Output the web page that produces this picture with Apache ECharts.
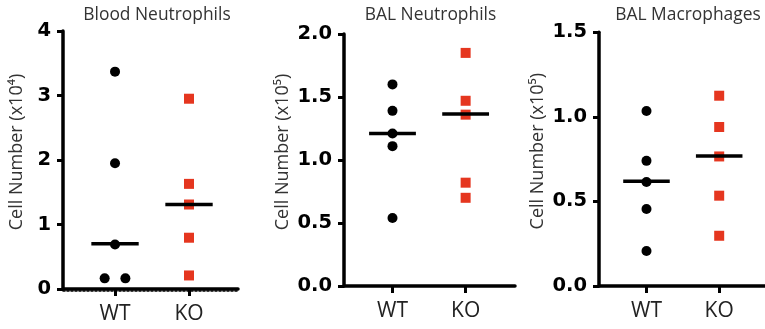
<!DOCTYPE html>
<html><head><meta charset="utf-8">
<script src="https://cdn.jsdelivr.net/npm/echarts@6/dist/echarts.min.js"></script>
<style>html,body{margin:0;padding:0;background:#fff}#c{width:765px;height:329px}</style>
</head><body><div id="c"></div>
<script>
const categories = ['WT', 'KO'];
const titles = ['Blood Neutrophils', 'BAL Neutrophils', 'BAL Macrophages'];
const yNames = ['Cell Number (x10\u2074)', 'Cell Number (x10\u2075)', 'Cell Number (x10\u2075)'];
const yMax = [4, 2, 1.5];
const yInterval = [1, 0.5, 0.5];
const yDecimals = [0, 1, 1];

const bloodWT = [3.37, 1.95, 0.69, 0.165, 0.165];
const bloodWTJitter = [0, 0, 0, -0.14, 0.14];
const bloodKO = [2.95, 1.63, 1.31, 0.795, 0.21];
const balNeuWT = [1.60, 1.39, 1.21, 1.11, 0.54];
const balNeuKO = [1.85, 1.47, 1.36, 0.82, 0.70];
const balMacWT = [1.035, 0.74, 0.615, 0.455, 0.207];
const balMacKO = [1.125, 0.94, 0.766, 0.534, 0.297];
const medians = [[0.70, 1.31], [1.21, 1.365], [0.619, 0.769]];

const panels = [
  {wt: bloodWT, wtJ: bloodWTJitter, ko: bloodKO},
  {wt: balNeuWT, wtJ: null, ko: balNeuKO},
  {wt: balMacWT, wtJ: null, ko: balMacKO}
];

const grids = [
  {left: 63, top: 31, width: 175, height: 258},
  {left: 344, top: 34, width: 171, height: 252},
  {left: 599, top: 32.3, width: 166, height: 253.7}
];
const xRange = [[0.297, 2.662], [0.337, 2.675], [0.347, 2.63]];
const titleX = [152, 425.5, 683];
const nameGaps = [37, 52, 52];

const chart = echarts.init(document.getElementById('c'));
const option = {
  animation: false,
  title: [], grid: [], xAxis: [], yAxis: [], series: []
};
grids.forEach((g, i) => {
  option.grid.push(g);
  option.title.push({
    text: titles[i], left: titleX[i], top: 2, textAlign: 'center',
    textStyle: {fontFamily: 'Open Sans', fontSize: 17.4, fontWeight: 'normal', color: '#333'}
  });
  option.xAxis.push({
    type: 'value', gridIndex: i, min: xRange[i][0], max: xRange[i][1],
    splitLine: {show: false},
    axisLine: {show: true, onZero: false, lineStyle: {color: '#000', width: 3.5}},
    axisTick: {show: true, customValues: [1, 2], length: 7, lineStyle: {color: '#000', width: 3}},
    axisLabel: {customValues: [1, 2], formatter: v => categories[Math.round(v) - 1],
      fontFamily: 'Open Sans', fontSize: 21, color: '#222', margin: 15}
  });
  option.yAxis.push({
    type: 'value', gridIndex: i, min: 0, max: yMax[i], interval: yInterval[i],
    name: yNames[i], nameLocation: 'middle', nameGap: nameGaps[i],
    nameTextStyle: {fontFamily: 'Open Sans', fontSize: 18, color: '#333', padding: [0, 0, 0, 16]},
    splitLine: {show: false},
    axisLine: {show: true, lineStyle: {color: '#000', width: 3.5}},
    axisTick: {show: true, length: 6, lineStyle: {color: '#000', width: 3}},
    axisLabel: {formatter: v => v.toFixed(yDecimals[i]), fontFamily: 'DejaVu Sans',
      fontWeight: 'bold', fontSize: 19.5, color: '#000', margin: 12}
  });
  const p = panels[i];
  option.series.push({
    type: 'scatter', xAxisIndex: i, yAxisIndex: i, symbol: 'circle', symbolSize: 10,
    itemStyle: {color: '#000', opacity: 1}, z: 3,
    data: p.wt.map((v, k) => [1 + (p.wtJ ? p.wtJ[k] : 0), v])
  });
  option.series.push({
    type: 'scatter', xAxisIndex: i, yAxisIndex: i, symbol: 'rect', symbolSize: 10,
    itemStyle: {color: '#e5361f', opacity: 1}, z: 3,
    data: p.ko.map(v => [2, v])
  });
  option.series.push({
    type: 'custom', xAxisIndex: i, yAxisIndex: i, z: 4,
    data: medians[i].map((m, k) => [k + 1, m]),
    renderItem: (params, api) => {
      const x = api.value(0), y = api.value(1);
      const a = api.coord([x - 0.32, y]), b = api.coord([x + 0.32, y]);
      return {type: 'line', shape: {x1: a[0], y1: a[1], x2: b[0], y2: b[1]},
        style: {stroke: '#000', lineWidth: 3.5}};
    }
  });
});
// dashed underline on the first panel's x axis
option.xAxis.push({
  type: 'value', gridIndex: 0, min: xRange[0][0], max: xRange[0][1], position: 'bottom', offset: 2,
  splitLine: {show: false}, axisTick: {show: false}, axisLabel: {show: false},
  axisLine: {show: true, onZero: false, lineStyle: {color: '#000', width: 1.5, type: [2, 2]}}
});
chart.setOption(option);
</script></body></html>
